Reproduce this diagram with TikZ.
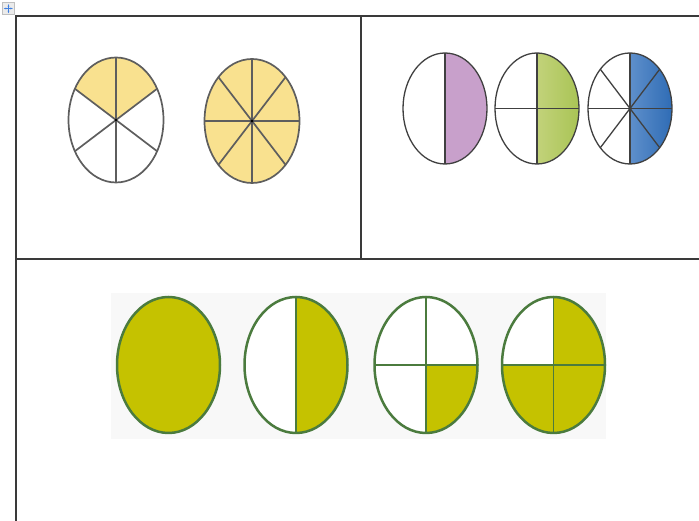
\documentclass[tikz,border=0pt]{standalone}
\usetikzlibrary{positioning, arrows.meta}

\definecolor{tabline}{HTML}{3A3A3A}
\definecolor{cakeyellow}{HTML}{F9E18F}
\definecolor{cakegray}{HTML}{5E5E5E}
\definecolor{halfpink}{HTML}{C8A0CB}
\definecolor{halfgreen}{HTML}{A9C455}
\definecolor{halfgreenlt}{HTML}{C2D27A}
\definecolor{halfblue}{HTML}{2F6CB5}
\definecolor{halfbluelt}{HTML}{5E8FCB}
\definecolor{olive}{HTML}{C5C200}
\definecolor{darkgreen}{HTML}{4B7B3E}
\definecolor{panelgray}{HTML}{F8F8F8}
\definecolor{iconblue}{HTML}{3F7FE0}

\tikzset{
  tableline/.style={draw=tabline, line width=1.1pt},
  cakeline/.style={draw=cakegray, line width=1.7pt},
  halfline/.style={draw=black!75, line width=1.3pt},
  olivline/.style={draw=darkgreen, line width=2.5pt},
}

\begin{document}
\begin{tikzpicture}[x=1pt, y=1pt]
        \useasboundingbox (0,0) rectangle (699,521);
        % move handle
        \node[draw=black!25, fill=black!8, minimum size=12pt, inner sep=0pt] (handle) at (8.5,512.5) {};
        \draw[iconblue, line width=1pt, {Stealth[length=2.5pt]}-{Stealth[length=2.5pt]}] (handle.west) ++(1.5,0) -- ++(9,0);
        \draw[iconblue, line width=1pt, {Stealth[length=2.5pt]}-{Stealth[length=2.5pt]}] (handle.south) ++(0,1.5) -- ++(0,9);
        % table
        \coordinate (tl) at (16,505);
        \coordinate (tr) at (699,505);
        \coordinate (bl) at (16,0);
        \coordinate (ml) at (16,262);
        \coordinate (mr) at (699,262);
        \coordinate (vt) at (361,505);
        \coordinate (vb) at (361,262);
        \draw[tableline] (tr) -- (tl) -- (bl);
        \draw[tableline] (ml) -- (mr);
        \draw[tableline] (vt) -- (vb);

        % cell 1: sixths and eighths
        \coordinate (c1) at (116,401);
        \coordinate (c2) at (252,400);
        \fill[cakeyellow] (c1) -- +(30:47.5 and 62.5) arc[start angle=30, end angle=150, x radius=47.5, y radius=62.5] -- cycle;
        \foreach \a in {30,90,...,330}
          \draw[cakeline] (c1) -- +(\a:47.5 and 62.5);
        \draw[cakeline] (c1) ellipse[x radius=47.5, y radius=62.5];
        \fill[cakeyellow] (c2) ellipse[x radius=47.5, y radius=62];
        \foreach \a in {0,45,...,315}
          \draw[cakeline] (c2) -- +(\a:47.5 and 62);
        \draw[cakeline] (c2) ellipse[x radius=47.5, y radius=62];
        \fill[black] (c1) circle(1.4);
        \fill[black] (c2) circle(1.7);

        % cell 2: halves
        \coordinate (h1) at (445,412.5);
        \coordinate (h2) at (537,412.5);
        \coordinate (h3) at (630,412.5);
        \fill[halfpink] (h1) -- +(90:42 and 55.5) arc[start angle=90, end angle=-90, x radius=42, y radius=55.5] -- cycle;
        \shade[left color=halfgreenlt, right color=halfgreen] (h2) -- +(90:42 and 55.5) arc[start angle=90, end angle=-90, x radius=42, y radius=55.5] -- cycle;
        \shade[left color=halfbluelt, right color=halfblue] (h3) -- +(90:42 and 55.5) arc[start angle=90, end angle=-90, x radius=42, y radius=55.5] -- cycle;
        \draw[halfline] (h1) ++(0,55.5) -- ++(0,-111);
        \draw[halfline] (h2) ++(0,55.5) -- ++(0,-111);
        \draw[halfline] (h2) ++(-42,0) -- ++(84,0);
        \foreach \a in {0,45,...,315}
          \draw[halfline] (h3) -- +(\a:42 and 55.5);
        \foreach \c in {h1,h2,h3}
          \draw[halfline] (\c) ellipse[x radius=42, y radius=55.5];

        % cell 3: wholes, halves, quarters
        \fill[panelgray] (111,82) rectangle (606,228);
        \coordinate (q1) at (168.5,156);
        \coordinate (q2) at (296,156);
        \coordinate (q3) at (426,156);
        \coordinate (q4) at (553.5,156);
        \fill[olive] (q1) ellipse[x radius=51.5, y radius=68];
        \fill[white] (q2) ellipse[x radius=51.5, y radius=68];
        \fill[olive] (q2) -- +(90:51.5 and 68) arc[start angle=90, end angle=-90, x radius=51.5, y radius=68] -- cycle;
        \fill[white] (q3) ellipse[x radius=51.5, y radius=68];
        \fill[olive] (q3) -- +(0:51.5 and 68) arc[start angle=0, end angle=-90, x radius=51.5, y radius=68] -- cycle;
        \fill[olive] (q4) ellipse[x radius=51.5, y radius=68];
        \fill[white] (q4) -- +(90:51.5 and 68) arc[start angle=90, end angle=180, x radius=51.5, y radius=68] -- cycle;
        \draw[darkgreen, line width=1.8pt] (q2) ++(0,68) -- ++(0,-136);
        \draw[darkgreen, line width=1.8pt] (q3) ++(0,68) -- ++(0,-136);
        \draw[darkgreen, line width=1.8pt] (q3) ++(-51.5,0) -- ++(103,0);
        \draw[darkgreen, line width=1.8pt] (q4) ++(0,68) -- ++(0,-136);
        \draw[darkgreen, line width=1.8pt] (q4) ++(-51.5,0) -- ++(103,0);
        \foreach \c in {q1,q2,q3,q4}
          \draw[olivline] (\c) ellipse[x radius=51.5, y radius=68];
\end{tikzpicture}
\end{document}
